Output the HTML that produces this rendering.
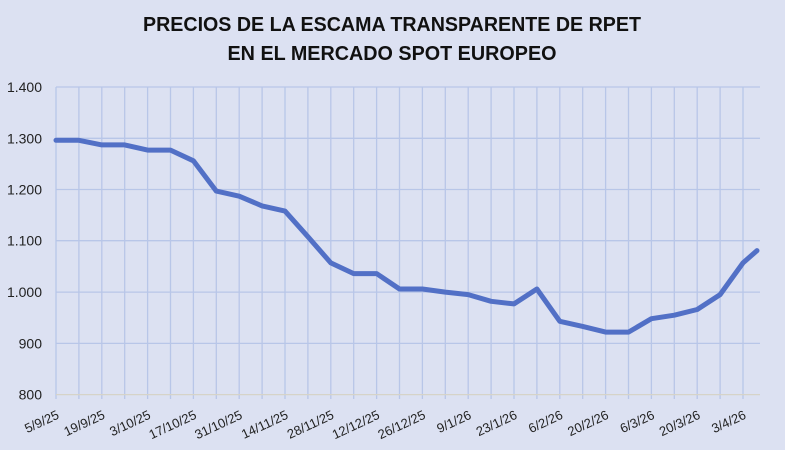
<!DOCTYPE html>
<html><head><meta charset="utf-8"><style>
html,body{margin:0;padding:0;background:#dce1f2;}
svg{display:block;font-family:"Liberation Sans",sans-serif;}
</style></head><body>
<svg width="785" height="450" viewBox="0 0 785 450" xmlns="http://www.w3.org/2000/svg">
<rect width="785" height="450" fill="#dce1f2"/>
<text x="392" y="31" text-anchor="middle" font-size="20" font-weight="bold" fill="#111" textLength="498" lengthAdjust="spacingAndGlyphs">PRECIOS DE LA ESCAMA TRANSPARENTE DE RPET</text>
<text x="392" y="60" text-anchor="middle" font-size="20" font-weight="bold" fill="#111" textLength="329" lengthAdjust="spacingAndGlyphs">EN EL MERCADO SPOT EUROPEO</text>
<g stroke="#b8c6e8" stroke-width="1.3">
<path d="M56 87V399M78.9 87V399M101.8 87V399M124.7 87V399M147.6 87V399M170.5 87V399M193.4 87V399M216.3 87V399M239.2 87V399M262.1 87V399M285 87V399M307.9 87V399M330.8 87V399M353.7 87V399M376.6 87V399M399.5 87V399M422.4 87V399M445.3 87V399M468.2 87V399M491.1 87V399M514 87V399M536.9 87V399M559.8 87V399M582.7 87V399M605.6 87V399M628.5 87V399M651.4 87V399M674.3 87V399M697.2 87V399M720.1 87V399M743 87V399"/>
<path d="M56 87H760M56 138.3H760M56 189.5H760M56 240.7H760M56 292.1H760M56 343.4H760"/>
<path d="M56 394.6H760" stroke="#d6d3c8"/>
</g>
<g font-size="14" fill="#222" text-anchor="end">
<text x="42" y="92">1.400</text>
<text x="42" y="143.3">1.300</text>
<text x="42" y="194.5">1.200</text>
<text x="42" y="245.7">1.100</text>
<text x="42" y="297.1">1.000</text>
<text x="42" y="348.4">900</text>
<text x="42" y="399.6">800</text>
</g>
<g font-size="13" fill="#222" text-anchor="end">
<text x="60" y="418" transform="rotate(-25 60 418)">5/9/25</text>
<text x="105.8" y="418" transform="rotate(-25 105.8 418)">19/9/25</text>
<text x="151.6" y="418" transform="rotate(-25 151.6 418)">3/10/25</text>
<text x="197.4" y="418" transform="rotate(-25 197.4 418)">17/10/25</text>
<text x="243.2" y="418" transform="rotate(-25 243.2 418)">31/10/25</text>
<text x="289" y="418" transform="rotate(-25 289 418)">14/11/25</text>
<text x="334.8" y="418" transform="rotate(-25 334.8 418)">28/11/25</text>
<text x="380.6" y="418" transform="rotate(-25 380.6 418)">12/12/25</text>
<text x="426.4" y="418" transform="rotate(-25 426.4 418)">26/12/25</text>
<text x="472.2" y="418" transform="rotate(-25 472.2 418)">9/1/26</text>
<text x="518" y="418" transform="rotate(-25 518 418)">23/1/26</text>
<text x="563.8" y="418" transform="rotate(-25 563.8 418)">6/2/26</text>
<text x="609.6" y="418" transform="rotate(-25 609.6 418)">20/2/26</text>
<text x="655.4" y="418" transform="rotate(-25 655.4 418)">6/3/26</text>
<text x="701.2" y="418" transform="rotate(-25 701.2 418)">20/3/26</text>
<text x="747" y="418" transform="rotate(-25 747 418)">3/4/26</text>
</g>
<polyline fill="none" stroke="#5270c6" stroke-width="5" stroke-linejoin="round" stroke-linecap="round" points="56,140.3 78.9,140.3 101.8,144.9 124.7,144.9 147.6,150.1 170.5,150.1 193.4,160.8 216.3,191.1 239.2,196.2 262.1,205.9 285,211.1 307.9,236.7 330.8,262.9 353.7,273.6 376.6,273.6 399.5,289 422.4,289 445.3,292.1 468.2,294.6 491.1,301.3 514,303.9 536.9,289 559.8,321.3 582.7,326.4 605.6,332.1 628.5,332.1 651.4,318.7 674.3,315.2 697.2,309.5 720.1,294.6 743,262.9 757,250.6"/>
</svg>
</body></html>
